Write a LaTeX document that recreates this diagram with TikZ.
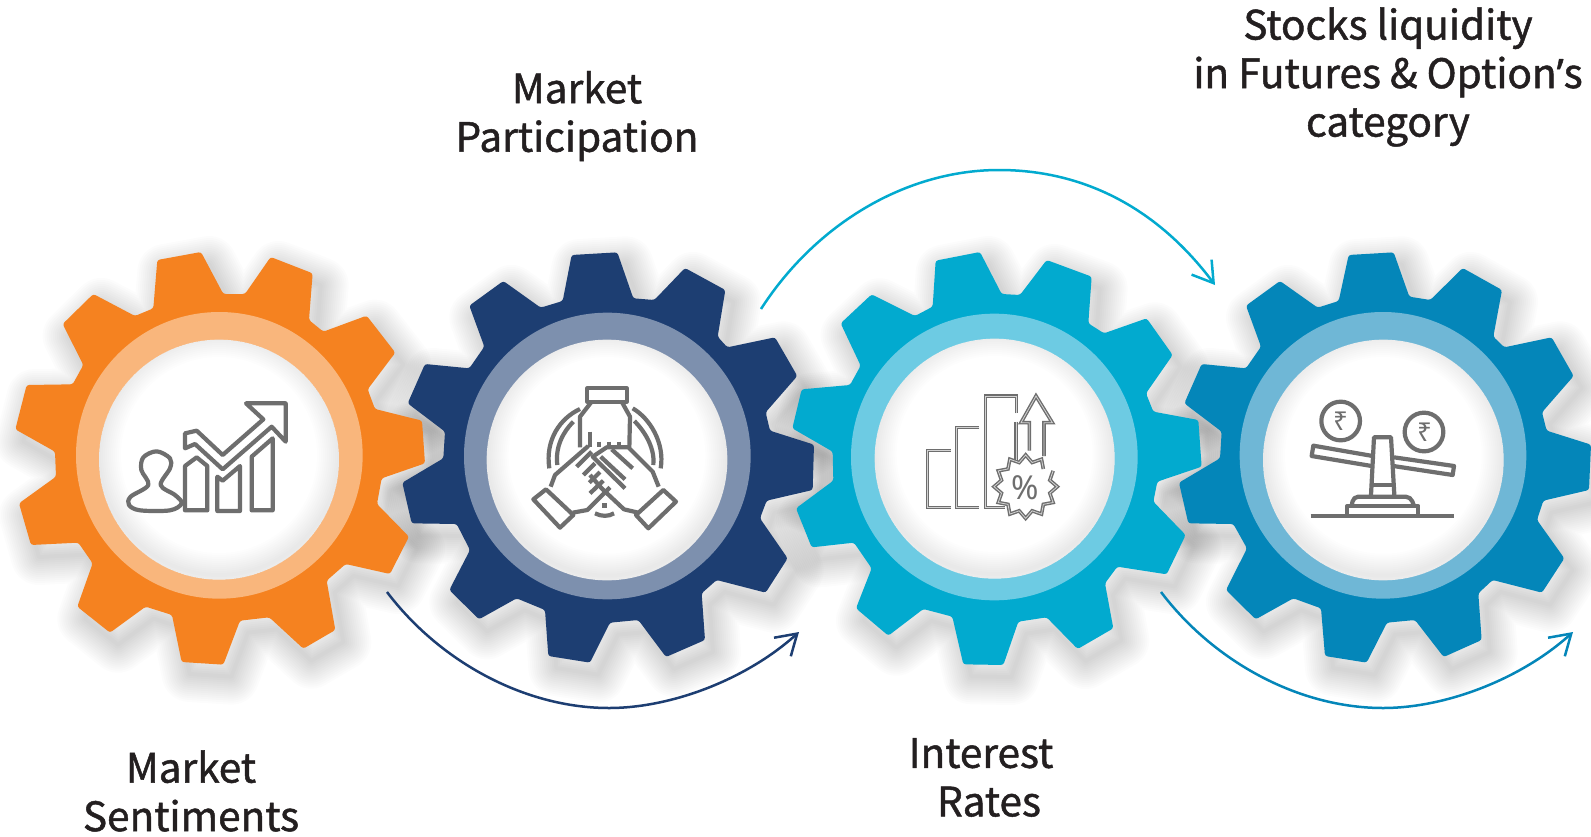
\documentclass[tikz,border=0pt]{standalone}
\usepackage{fontspec}
\usetikzlibrary{arrows.meta}
\newfontfamily\labfont[FakeBold=1.2]{Noto Sans CJK SC}
\newfontfamily\iconfont{Noto Sans}
\newfontfamily\aposfont[FakeBold=1.2]{Noto Sans}
\definecolor{cOrange}{HTML}{F58220}
\definecolor{rOrange}{HTML}{F9B67C}
\definecolor{cNavy}{HTML}{1D3E72}
\definecolor{rNavy}{HTML}{7D90AE}
\definecolor{cCyan}{HTML}{02AACF}
\definecolor{rCyan}{HTML}{6DCBE3}
\definecolor{cBlue}{HTML}{0486B9}
\definecolor{rBlue}{HTML}{6FB7D6}
\definecolor{cIcon}{HTML}{6E6E6E}
\definecolor{cText}{HTML}{231F20}
\def\gearA{(472,90)--(603,66)--(670,192)--(735,192)--(812,81)--(938,130)--(927,270)--(970,305)--(1100,257)--(1186,368)--(1103,478)--(1125,537)--(1266,572)--(1275,700)--(1145,745)--(1131,822)--(1227,920)--(1170,1032)--(1037,1002)--(980,1052)--(1006,1200)--(910,1256)--(808,1162)--(720,1172)--(670,1304)--(545,1296)--(516,1155)--(437,1130)--(330,1208)--(232,1130)--(278,1000)--(235,938)--(93,945)--(57,820)--(168,740)--(165,665)--(46,598)--(80,465)--(218,463)--(250,405)--(188,282)--(280,192)--(405,258)--(460,235)--cycle}
\def\gearB{(545,45)--(682,37)--(730,175)--(793,180)--(885,84)--(1006,150)--(983,290)--(1012,322)--(1155,292)--(1222,408)--(1127,517)--(1140,572)--(1272,614)--(1268,750)--(1130,782)--(1110,835)--(1193,955)--(1127,1058)--(980,1020)--(935,1060)--(945,1200)--(828,1251)--(745,1140)--(660,1148)--(600,1268)--(475,1248)--(465,1110)--(380,1075)--(267,1138)--(178,1050)--(240,930)--(200,852)--(65,850)--(37,728)--(160,655)--(165,575)--(53,490)--(105,372)--(238,385)--(283,320)--(238,197)--(340,123)--(452,203)--(518,183)--cycle}
\def\gearC{(467,62)--(600,36)--(665,162)--(720,165)--(800,60)--(935,110)--(925,250)--(972,280)--(1100,235)--(1178,345)--(1098,460)--(1120,515)--(1255,540)--(1265,680)--(1132,725)--(1120,785)--(1217,885)--(1160,1003)--(1012,980)--(975,1030)--(1000,1165)--(893,1227)--(800,1132)--(715,1145)--(670,1275)--(550,1273)--(517,1130)--(430,1107)--(325,1187)--(228,1105)--(275,985)--(222,908)--(95,922)--(48,805)--(160,722)--(158,635)--(37,565)--(65,448)--(210,435)--(242,377)--(182,250)--(275,163)--(405,228)--(458,200)--cycle}
\def\gearD{(563,45)--(698,37)--(745,170)--(808,180)--(905,84)--(1023,150)--(997,290)--(1030,322)--(1172,292)--(1238,408)--(1143,517)--(1157,572)--(1290,614)--(1284,750)--(1147,782)--(1128,840)--(1210,955)--(1143,1058)--(995,1020)--(952,1060)--(962,1200)--(848,1251)--(762,1140)--(678,1148)--(617,1268)--(492,1248)--(480,1105)--(397,1075)--(284,1138)--(195,1050)--(258,925)--(217,852)--(82,850)--(54,728)--(177,655)--(182,575)--(70,490)--(122,372)--(255,385)--(300,320)--(255,197)--(357,123)--(470,203)--(533,183)--cycle}
\newcommand{\gearshadow}[1]{\foreach \w in {4,8,...,56}{\draw[black,opacity=.010,line width=\w pt,line join=round] #1;}}
\newcommand{\hubdraw}[8]{%
  \fill[#1,rounded corners=2.5pt] #2;
  \fill[#3] (#4,#5) circle (430);
  \fill[white] (#6,#7) circle (#8);
  \begin{scope}
    \clip (#6,#7) circle (#8);
    \foreach \w in {4,8,...,44}{\draw[black,opacity=.008,line width=\w pt] (#6,#7-14) circle (#8);}
  \end{scope}}
\tikzset{
  zoomA/.style={shift={(0,230)},x=.33333pt,y=-.33333pt},
  zoomB/.style={shift={(390,240)},x=.33333pt,y=-.33333pt},
  zoomC/.style={shift={(780,240)},x=.33333pt,y=-.33333pt},
  zoomD/.style={shift={(1161,240)},x=.33333pt,y=-.33333pt},
  iconA/.style={shift={(120,380)},x=.33333pt,y=-.33333pt},
  iconB/.style={shift={(510,360)},x=.33333pt,y=-.33333pt},
  iconC/.style={shift={(910,380)},x=.33333pt,y=-.33333pt},
  iconD/.style={shift={(1290,380)},x=.33333pt,y=-.33333pt},
  glyph/.style={draw=cIcon,line width=4.2pt,line join=round},
  glyphthin/.style={draw=cIcon,line width=3.6pt,line join=miter},
  glyphcore/.style={draw=white!70!cIcon,line width=.8pt,line join=miter},
  lab/.style={font=\labfont\fontsize{40.5}{48.5}\selectfont,text=cText,align=center,inner sep=0pt},
  arc/.style={line width=2.5pt,-{Straight Barb[length=20pt,width=25pt,line width=2.5pt]}}
}
\begin{document}
\begin{tikzpicture}[x=1pt,y=-1pt]
\useasboundingbox (0,0) rectangle (1591,836);
\fill[white] (0,0) rectangle (1591,836);
% shadows
\begin{scope}[shift={(8,12)}]
 \begin{scope}[zoomA]\gearshadow{\gearA}\end{scope}
 \begin{scope}[zoomB]\gearshadow{\gearB}\end{scope}
 \begin{scope}[zoomC]\gearshadow{\gearC}\end{scope}
 \begin{scope}[zoomD]\gearshadow{\gearD}\end{scope}
\end{scope}
% gears
\begin{scope}[zoomA]\hubdraw{cOrange}{\gearA}{rOrange}{658}{676}{657}{689}{360}\end{scope}
\begin{scope}[zoomB]\hubdraw{cNavy}{\gearB}{rNavy}{652}{648}{651}{660}{361}\end{scope}
\begin{scope}[zoomC]\hubdraw{cCyan}{\gearC}{rCyan}{643}{651}{644}{656}{360}\end{scope}
\begin{scope}[zoomD]\hubdraw{cBlue}{\gearD}{rBlue}{666}{646}{667}{660}{361}\end{scope}
% icon 1
\begin{scope}[iconA]
 \draw[glyph] plot[smooth cycle,tension=.55] coordinates {(110,214)(70,232)(64,270)(85,315)(32,350)(27,375)(60,391)(150,391)(185,370)(165,345)(122,315)(150,265)(150,235)};
 \draw[glyph] (195,258)--(230,232)--(262,258)--(262,391)--(195,391)--cycle;
 \draw[glyph] (292,290)--(308,302)--(360,258)--(360,393)--(292,393)--cycle;
 \draw[glyph] (395,230)--(458,175)--(458,391)--(395,391)--cycle;
 \draw[glyph] (195,160)--(230,152)--(308,225)--(430,118)--(378,70)--(497,70)--(497,185)--(455,140)--(308,268)--(225,192)--(195,205)--cycle;
\end{scope}
% icon 2
\begin{scope}[iconB]
 \draw[glyph] (232,85) rectangle (350,125);
 \draw[glyph] (245,125)--(210,170)--(210,262);
 \draw[glyph] (335,125)--(360,170)--(358,262);
 \draw[glyph] (240,215)--(240,262) (268,245)--(268,262) (298,245)--(298,262) (328,245)--(328,262);
 \draw[glyph] (118,325) .. controls (105,240) and (150,175) .. (210,147);
 \draw[glyph] (368,145) .. controls (420,175) and (465,250) .. (452,325);
 \draw[glyph] (142,315) .. controls (135,260) and (160,215) .. (190,185);
 \draw[glyph] (373,183) .. controls (410,220) and (435,270) .. (430,315);
 \draw[glyph] (108,388)--(70,418)--(150,503)--(190,465)--cycle;
 \draw[glyph] (460,390)--(498,425)--(415,505)--(378,465)--cycle;
 \draw[glyph] (122,380)--(135,345)--(235,258);
 \draw[glyph] (188,458)--(232,450)--(300,382);
 \draw[glyph] (446,380)--(428,335)--(355,262)--(290,262)--(248,290)--(345,385);
 \draw[glyph] (385,458)--(342,448)--(275,385)--(240,345);
 \draw[glyph] (305,268)--(368,325) (272,290)--(345,358);
 \draw[glyph] (200,320)--(245,275) (220,345)--(255,310) (238,368)--(270,336) (240,400)--(280,362);
 \fill[cIcon] (276,428) rectangle (291,443);
 \draw[glyph] (255,460) .. controls (275,470) and (295,470) .. (312,460);
\end{scope}
% icon 3
\begin{scope}[iconC]
 \foreach \sty in {glyphthin,glyphcore}{
 \draw[\sty] (122,212)--(53,212)--(53,382)--(122,382);
 \draw[\sty] (208,143)--(140,143)--(140,382)--(208,382);
 \draw[\sty] (320,100)--(320,48)--(227,48)--(227,382)--(285,382);
 \draw[\sty] (318,125)--(318,240);
 \draw[\sty] (358,212)--(358,128)--(333,128)--(378,48)--(427,128)--(402,128)--(402,228);
 \draw[\sty] plot[domain=45:390,samples=24] ({347+(85+10*cos(12*\x))*cos(\x)},{320-(85+10*cos(12*\x))*sin(\x)});
 }
 \node[text=cIcon,font=\iconfont\fontsize{33}{33}\selectfont,inner sep=0pt] (pct) at (347,322) {\%};
\end{scope}
% icon 4
\begin{scope}[iconD]
 \draw[glyph] (152,123) circle (58) (402,156) circle (58);
 \node[text=cIcon,font=\iconfont\fontsize{26}{26}\selectfont,inner sep=0pt] (rupA) at (152,123) {₹};
 \node[text=cIcon,font=\iconfont\fontsize{26}{26}\selectfont,inner sep=0pt] (rupB) at (404,158) {₹};
 \draw[glyph] (248,228)--(70,197)--(65,228)--(245,258);
 \draw[glyph] (312,232)--(492,258)--(488,285)--(310,258);
 \draw[glyph] (243,345)--(252,172)--(303,172)--(313,345);
 \draw[glyph] (248,315)--(307,315);
 \draw[glyph,rounded corners=5pt] (185,378)--(190,350)--(362,350)--(372,378);
 \draw[glyph] (172,408)--(172,378)--(385,378)--(385,408);
 \draw[cIcon,line width=4.6pt] (62,408)--(493,408);
\end{scope}
% connectors
\coordinate (a1) at (387,592); \coordinate (a1m) at (609,708); \coordinate (a1e) at (799,632);
\coordinate (a2) at (761,309); \coordinate (a2m) at (999,170); \coordinate (a2e) at (1215,285);
\coordinate (a3) at (1161,592); \coordinate (a3m) at (1383,708); \coordinate (a3e) at (1573,632);
\draw[cNavy,arc] (a1) .. controls (440,662) and (525,708) .. (a1m) .. controls (672,708) and (747,679) .. (a1e);
\draw[cCyan,arc] (a2) .. controls (815,225) and (905,170) .. (a2m) .. controls (1080,170) and (1155,205) .. (a2e);
\draw[cBlue,arc] (a3) .. controls (1214,662) and (1299,708) .. (a3m) .. controls (1446,708) and (1521,679) .. (a3e);
% labels
\node[lab] (tA) at (191,791) {Market\\Sentiments};
\node[lab] (tB) at (577,116) {Market\\Participation};
\node[lab] (tC) at (985,777.5) {\hspace*{-8pt}Interest\\\hspace*{8pt}Rates};
\node[lab] (tD) at (1388,77) {Stocks liquidity\\in Futures \& Option{\aposfont ’}s\\category};
\end{tikzpicture}
\end{document}
